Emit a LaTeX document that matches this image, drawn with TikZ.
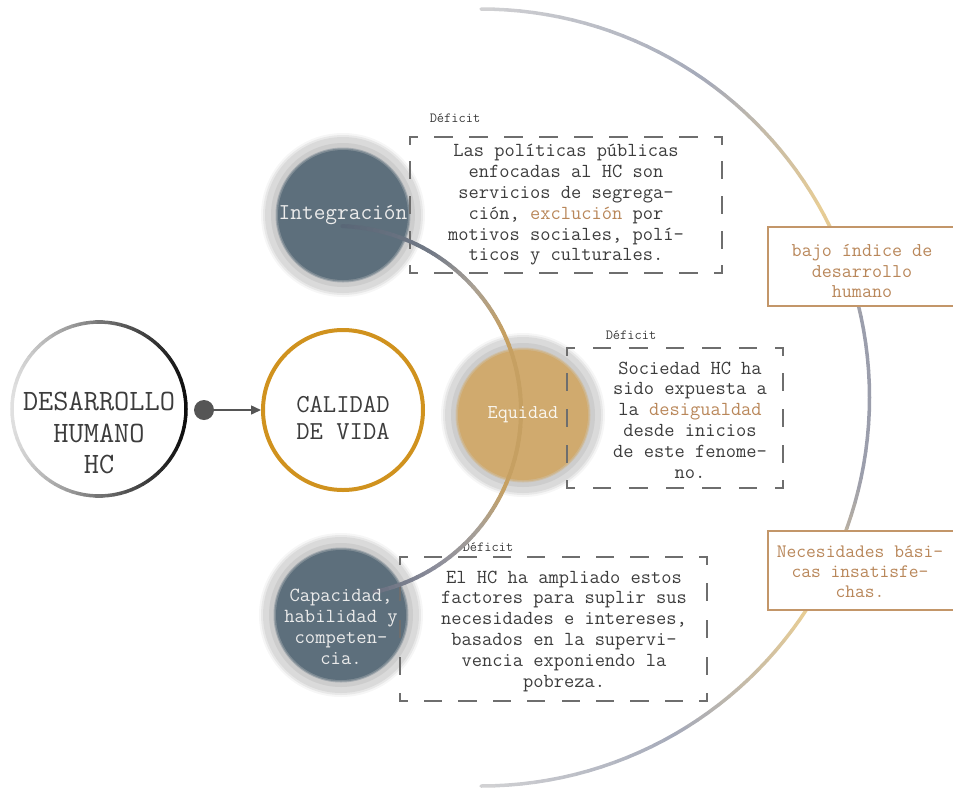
\documentclass[tikz,border=0pt]{standalone}
\usepackage{fontspec}
\usetikzlibrary{arrows.meta}
\definecolor{slate}{RGB}{93,111,124}
\definecolor{goldin}{RGB}{208,170,110}
\definecolor{haloa}{RGB}{218,218,218}
\definecolor{halob}{RGB}{205,205,205}
\definecolor{ringc}{RGB}{208,146,30}
\definecolor{tanc}{RGB}{185,135,90}
\definecolor{tanbox}{RGB}{195,150,105}
\definecolor{txt}{RGB}{60,60,60}
\definecolor{dashc}{RGB}{110,110,110}
\definecolor{dotc}{RGB}{85,85,85}
\definecolor{A1}{RGB}{210,210,212}
\definecolor{A2}{RGB}{165,170,185}
\definecolor{A3}{RGB}{234,206,148}
\definecolor{A4}{RGB}{155,158,172}
\definecolor{I1}{RGB}{88,102,118}
\definecolor{I2}{RGB}{115,122,135}
\definecolor{I3}{RGB}{168,160,150}
\definecolor{I4}{RGB}{198,160,98}
\definecolor{I5}{RGB}{140,142,155}
\definecolor{I6}{RGB}{105,112,128}
\newcommand\dbHside[3]{%
  \pgfmathsetmacro\dbL{#2-#1}%
  \pgfmathtruncatemacro\dbN{round((\dbL-31)/34)}%
  \pgfmathsetmacro\dbG{(\dbL-14-17*\dbN)/(\dbN+1)}%
  \draw[dashline, dash pattern=on 17pt off \dbG pt, dash phase=10pt] (#1,#3) -- (#2,#3);%
}
\newcommand\dbVside[3]{%
  \pgfmathsetmacro\dbL{#2-#1}%
  \pgfmathtruncatemacro\dbN{round((\dbL-31)/34)}%
  \pgfmathsetmacro\dbG{(\dbL-14-17*\dbN)/(\dbN+1)}%
  \draw[dashline, dash pattern=on 17pt off \dbG pt, dash phase=10pt] (#3,#1) -- (#3,#2);%
}
\newcommand\mydbox[4]{\dbHside{#1}{#3}{#2}\dbHside{#1}{#3}{#4}\dbVside{#2}{#4}{#1}\dbVside{#2}{#4}{#3}}
\newcommand\myhalo[3]{%
  \fill[haloa, opacity=0.25] (#1,#2) circle[radius=82];
  \fill[haloa, opacity=0.5] (#1,#2) circle[radius=80];
  \fill[haloa] (#1,#2) circle[radius=78];
  \fill[halob] (#1,#2) circle[radius=72];
  \fill[#3!35!halob] (#1,#2) circle[radius=67.5];
  \fill[#3!70!halob] (#1,#2) circle[radius=66.5];
}
\tikzset{
  dashline/.style={draw=dashc, line width=1.4pt, line cap=rect},
  boxtext/.style={font=\ttfamily\fontsize{19.9}{20.8}\selectfont, text=txt, align=center, inner sep=0pt},
  deficit/.style={font=\ttfamily\fontsize{14}{16}\selectfont, text=txt, inner sep=0pt},
  tantext/.style={font=\ttfamily\fontsize{19.5}{20.8}\selectfont, text=tanc, align=center, inner sep=0pt},
  tanrect/.style={draw=tanbox, fill=white, line width=1.5pt, inner sep=0pt, anchor=north west},
  inner/.style={circle, inner sep=0pt, minimum size=130pt},
  ctext/.style={text=white!92!black, align=center, inner sep=0pt},
}
\begin{document}
\begin{tikzpicture}[x=1pt,y=-1pt]
\useasboundingbox (0,0) rectangle (953,788);
% big arc
\foreach \s/\e/\ca/\cb in {90/55/A1/A2, 55/28/A2/A3, 28/12/A3/A4, 12/-12/A4/A4, -12/-33/A4/A3, -33/-60/A3/A2, -60/-90/A2/A1}{
  \pgfmathtruncatemacro\n{max(1,round(abs(\s-\e)/2))}
  \foreach \i in {1,...,\n}{
    \pgfmathsetmacro\aa{\s+(\e-\s)*(\i-1)/\n}
    \pgfmathsetmacro\ab{\s+(\e-\s)*\i/\n}
    \pgfmathtruncatemacro\p{round(100*(\i-0.5)/\n)}
    \draw[line width=3.5pt, line cap=round, color=\cb!\p!\ca] ({481+388.5*cos(\aa)},{397.5-388.5*sin(\aa)}) -- ({481+388.5*cos(\ab)},{397.5-388.5*sin(\ab)});
  }
}
% right boxes
\node[tanrect, minimum width=195pt, minimum height=79pt] (rb1) at (767,226) {};
\node[tantext] (rb1t) at (862,271) {bajo índice de\\desarrollo\\humano};
\node[tanrect, minimum width=195pt, minimum height=79pt] (rb2) at (767,530) {};
\node[tantext, font=\ttfamily\fontsize{19}{20}\selectfont] (rb2t) at (860,572) {Necesidades bási-\\cas insatisfe-\\chas.};
% desarrollo ring
\node[circle, minimum size=174pt, inner sep=0pt] (dh) at (99,409) {};
\foreach \a in {0,4,...,356}{
  \pgfmathtruncatemacro\p{round(12+83*(1+cos(\a+2))/2)}
  \draw[line width=3.5pt, line cap=round, color=black!\p] ({99+87*cos(\a)},{409-87*sin(\a)}) -- ({99+87*cos(\a+4)},{409-87*sin(\a+4)});
}
\node[font=\ttfamily\fontsize{29.5}{31.7}\selectfont, text=txt, align=center, inner sep=0pt] (dht) at (99,433) {DESARROLLO\\HUMANO\\HC};
% calidad
\node[circle, draw=ringc, line width=4pt, minimum size=160pt, inner sep=0pt] (cv) at (343,410) {};
\node[font=\ttfamily\fontsize{25.9}{26.7}\selectfont, text=txt, align=center, inner sep=0pt] (cvt) at (343,418) {CALIDAD\\DE VIDA};
\node[circle, fill=dotc, minimum size=20pt, inner sep=0pt] (dot) at (204,410) {};
\draw[dotc, line width=1.5pt, -{Triangle[length=10pt,width=9pt]}] (dot) -- (cv);
% halos and inner circles
\myhalo{343}{215}{slate}
\myhalo{523}{415}{goldin}
\myhalo{341}{615}{slate}
\node[inner, fill=slate] (integ) at (343,215) {};
\node[inner, fill=goldin] (equi) at (523,415) {};
\node[inner, fill=slate] (capa) at (341,615) {};
% deficit labels
\node[deficit] (d1) at (455,118) {Déficit};
\node[deficit] (d2) at (631,335) {Déficit};
\node[deficit] (d3) at (488,547) {Déficit};
% box texts
\node[boxtext] (t1) at (566,205) {Las políticas públicas\\enfocadas al HC son\\servicios de segrega-\\ción, {\color{tanc}exclución} por\\motivos sociales, polí-\\ticos y culturales.};
\node[boxtext] (t2) at (690,420) {Sociedad HC ha\\sido expuesta a\\la {\color{tanc}desigualdad}\\desde inicios\\de este fenome-\\no.};
\node[boxtext] (t3) at (564,631) {El HC ha ampliado estos\\factores para suplir sus\\necesidades e intereses,\\basados en la supervi-\\vencia exponiendo la\\pobreza.};
% dashed boxes
\mydbox{410}{137}{722}{273}
\mydbox{567}{348}{783}{488}
\mydbox{400}{557}{707}{701}
% inner arc
\foreach \s/\e/\ca/\cb in {88/58/I1/I2, 58/42/I2/I3, 42/25/I3/I4, 25/-25/I4/I4, -25/-40/I4/I3, -40/-58/I3/I5, -58/-78/I5/I6}{
  \pgfmathtruncatemacro\n{max(1,round(abs(\s-\e)/2))}
  \foreach \i in {1,...,\n}{
    \pgfmathsetmacro\aa{\s+(\e-\s)*(\i-1)/\n}
    \pgfmathsetmacro\ab{\s+(\e-\s)*\i/\n}
    \pgfmathtruncatemacro\p{round(100*(\i-0.5)/\n)}
    \draw[line width=4pt, line cap=round, color=\cb!\p!\ca] ({336+185*cos(\aa)},{411-185*sin(\aa)}) -- ({336+185*cos(\ab)},{411-185*sin(\ab)});
  }
}
% circle texts
\node[ctext, font=\ttfamily\fontsize{22.7}{24}\selectfont] (integt) at (343,215) {Integración};
\node[ctext, text=white!90!goldin, font=\ttfamily\fontsize{19.6}{21}\selectfont] (equit) at (523,415) {Equidad};
\node[ctext, font=\ttfamily\fontsize{20}{21}\selectfont] (capat) at (341,627) {Capacidad,\\habilidad y\\competen-\\cia.};
\end{tikzpicture}
\end{document}
